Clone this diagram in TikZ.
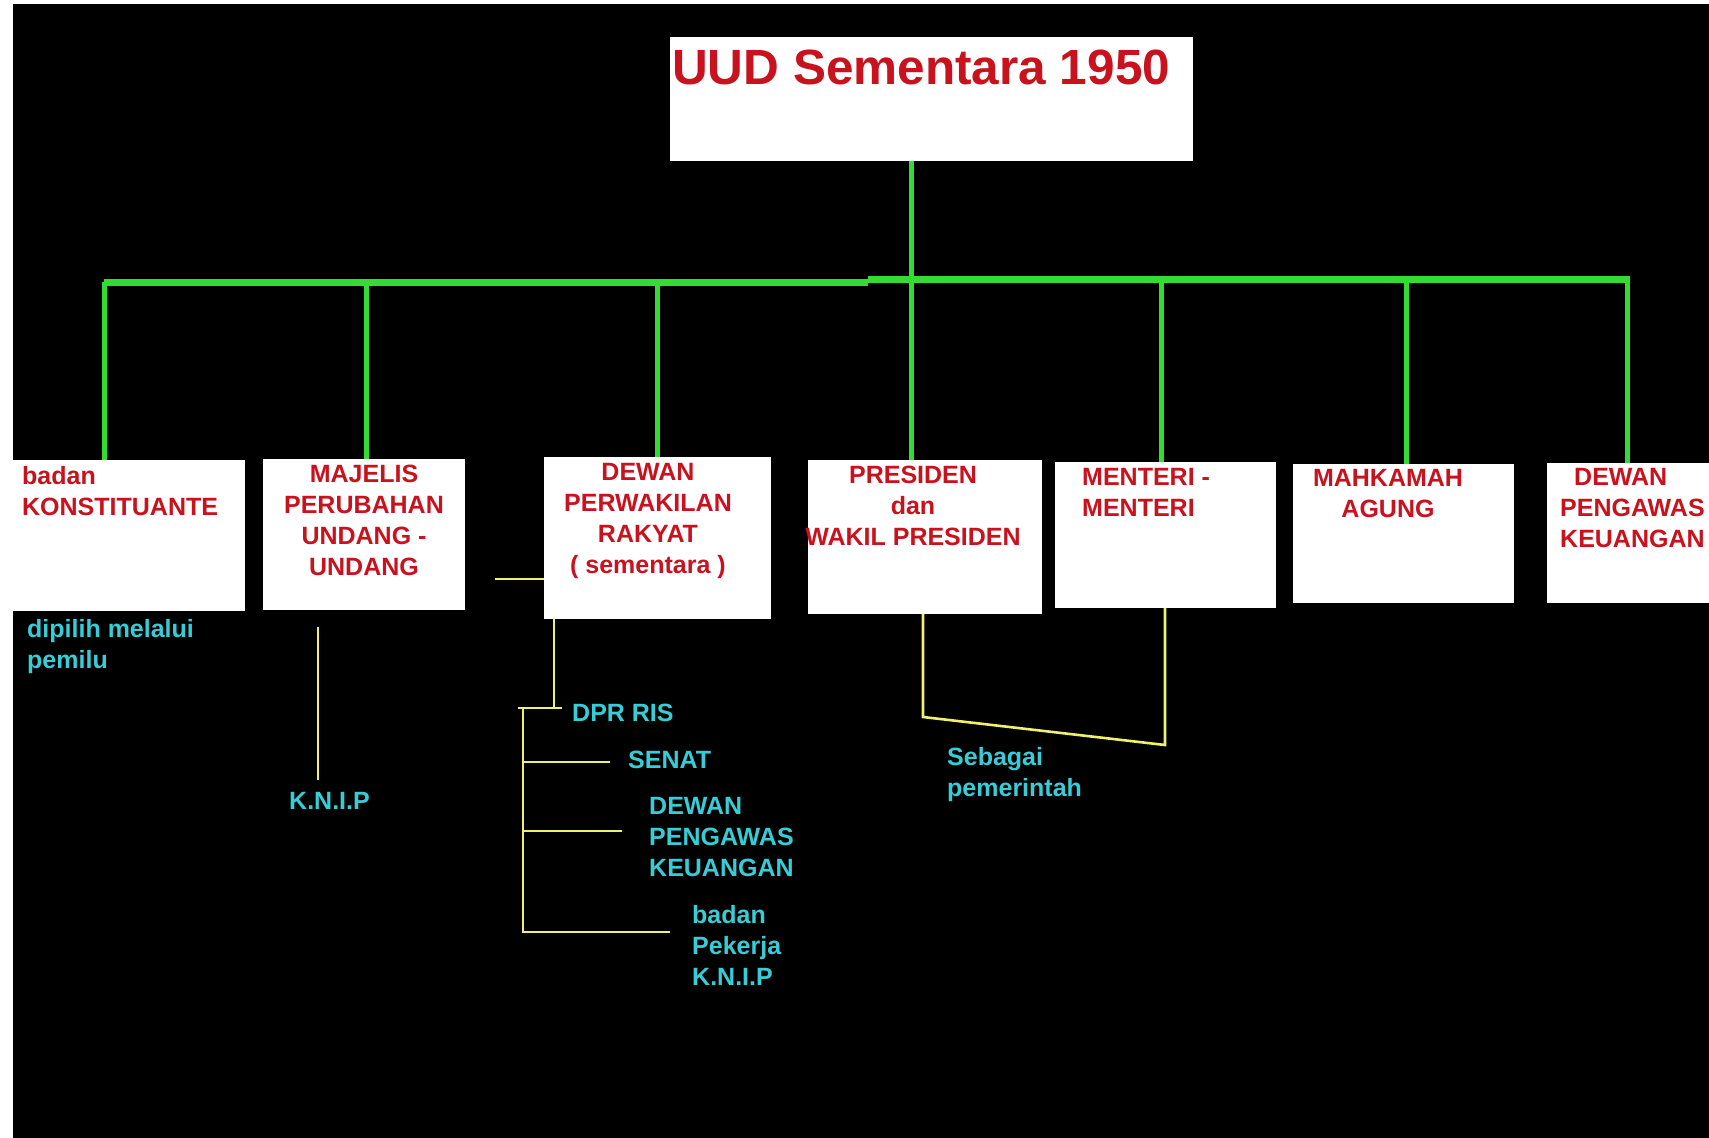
\documentclass[tikz,border=0pt]{standalone}
\usepackage{fontspec}
\setmainfont{Liberation Sans}
\definecolor{tred}{RGB}{200,18,30}
\definecolor{tcyan}{RGB}{55,205,215}
\definecolor{lgreen}{RGB}{50,220,50}
\definecolor{lyellow}{RGB}{240,240,110}
\begin{document}
\begin{tikzpicture}[x=1pt,y=-1pt,
  wbox/.style={fill=white, draw=none, inner sep=0pt, outer sep=0pt},
  rlab/.style={text=tred, font=\bfseries\fontsize{25}{31}\selectfont, inner sep=0pt},
  clab/.style={text=tcyan, font=\bfseries\fontsize{25}{31}\selectfont, inner sep=0pt, align=left, anchor=north west},
  gline/.style={draw=lgreen, line width=5pt},
  gbar/.style={draw=lgreen, line width=7pt},
  yline/.style={draw=lyellow, line width=2.6pt}]
\useasboundingbox (0,0) rectangle (1709,1138);
\fill[black] (0,0) rectangle (1709,1138);
\fill[white] (0,0) rectangle (13,1138);
\fill[white] (0,0) rectangle (1709,4);

% boxes
\node[wbox, minimum width=523pt, minimum height=124pt] (top) at (931.5,99) {};
\node[wbox, minimum width=232pt, minimum height=151pt] (b1) at (129,535.5) {};
\node[wbox, minimum width=202pt, minimum height=151pt] (b2) at (364,534.5) {};
\node[wbox, minimum width=227pt, minimum height=162pt] (b3) at (657.5,538) {};
\node[wbox, minimum width=234pt, minimum height=154pt] (b4) at (925,537) {};
\node[wbox, minimum width=221pt, minimum height=146pt] (b5) at (1165.5,535) {};
\node[wbox, minimum width=221pt, minimum height=139pt] (b6) at (1403.5,533.5) {};
\node[wbox, minimum width=162pt, minimum height=140pt] (b7) at (1628,533) {};

% box texts
\node[text=tred, font=\bfseries\fontsize{49.5}{55}\selectfont, inner sep=0pt, anchor=base west] (title) at (672,84) {UUD Sementara 1950};
\node[rlab, align=left, anchor=north west] (t1) at (22,466) {badan\\KONSTITUANTE};
\node[rlab, align=center, anchor=north] (t2) at (364,465) {MAJELIS\\PERUBAHAN\\UNDANG -\\UNDANG};
\node[rlab, align=center, anchor=north] (t3) at (648,463) {DEWAN\\PERWAKILAN\\RAKYAT\\( sementara )};
\node[rlab, align=center, anchor=north] (t4) at (913,466) {PRESIDEN\\dan\\WAKIL PRESIDEN};
\node[rlab, align=left, anchor=north west] (t5) at (1082,468) {MENTERI -\\MENTERI};
\node[rlab, align=center, anchor=north] (t6) at (1388,469) {MAHKAMAH\\AGUNG};
\node[rlab, align=left, anchor=north west] (t7) at (1560,468) {\hspace*{14pt}DEWAN\\PENGAWAS\\KEUANGAN};

% cyan texts
\node[clab] (c1) at (27,619) {dipilih melalui\\pemilu};
\node[clab] (knip) at (289,792) {K.N.I.P};
\node[clab] (dpr) at (572,704) {DPR RIS};
\node[clab] (senat) at (628,751) {SENAT};
\node[clab] (dpk) at (649,797) {DEWAN\\PENGAWAS\\KEUANGAN};
\node[clab] (bpk) at (692,905) {badan\\Pekerja\\K.N.I.P};
\node[clab] (seb) at (947,747) {Sebagai\\pemerintah};

% green tree
\coordinate (j1) at (104,282);
\coordinate (j2) at (366,282);
\coordinate (j3) at (657,282);
\coordinate (j4) at (911,280);
\coordinate (j5) at (1161,279);
\coordinate (j6) at (1406,279);
\coordinate (j7) at (1627,279);
\coordinate (jm) at (868,282);
\draw[gbar] (j1) -- (jm);
\draw[gbar] (jm |- j5) -- ([xshift=3pt]j7);
\draw[gline] (top.south -| j4) -- (j4 |- b4.north);
\draw[gline] (j1) -- (j1 |- b1.north);
\draw[gline] (j2) -- (j2 |- b2.north);
\draw[gline] (j3) -- (j3 |- b3.north);
\draw[gline] (j5) -- (j5 |- b5.north);
\draw[gline] (j6) -- (j6 |- b6.north);
\draw[gline] (j7) -- (j7 |- b7.north);

% yellow connectors
\coordinate (kA) at (318,627);
\coordinate (kB) at (318,780);
\draw[yline] (kA) -- (kB);
\coordinate (hL) at (495,579);
\draw[yline] (hL) -- (hL -| b3.west);
\coordinate (d3) at (554,708);
\coordinate (bL) at (518,708);
\coordinate (bR) at (562,708);
\coordinate (bus) at (523,708);
\coordinate (busB) at (523,932);
\coordinate (sE) at (610,762);
\coordinate (pE) at (622,831);
\coordinate (kE) at (670,932);
\draw[yline] (d3 |- b3.south) -- (d3);
\draw[yline] (bL) -- (bR);
\draw[yline] (bus) -- (busB) -- (kE);
\draw[yline] (bus |- sE) -- (sE);
\draw[yline] (bus |- pE) -- (pE);
\coordinate (sL) at (923,717);
\coordinate (sR) at (1165,745);
\draw[yline] (sL |- b4.south) -- (sL) -- (sR) -- (sR |- b5.south);
\end{tikzpicture}
\end{document}
